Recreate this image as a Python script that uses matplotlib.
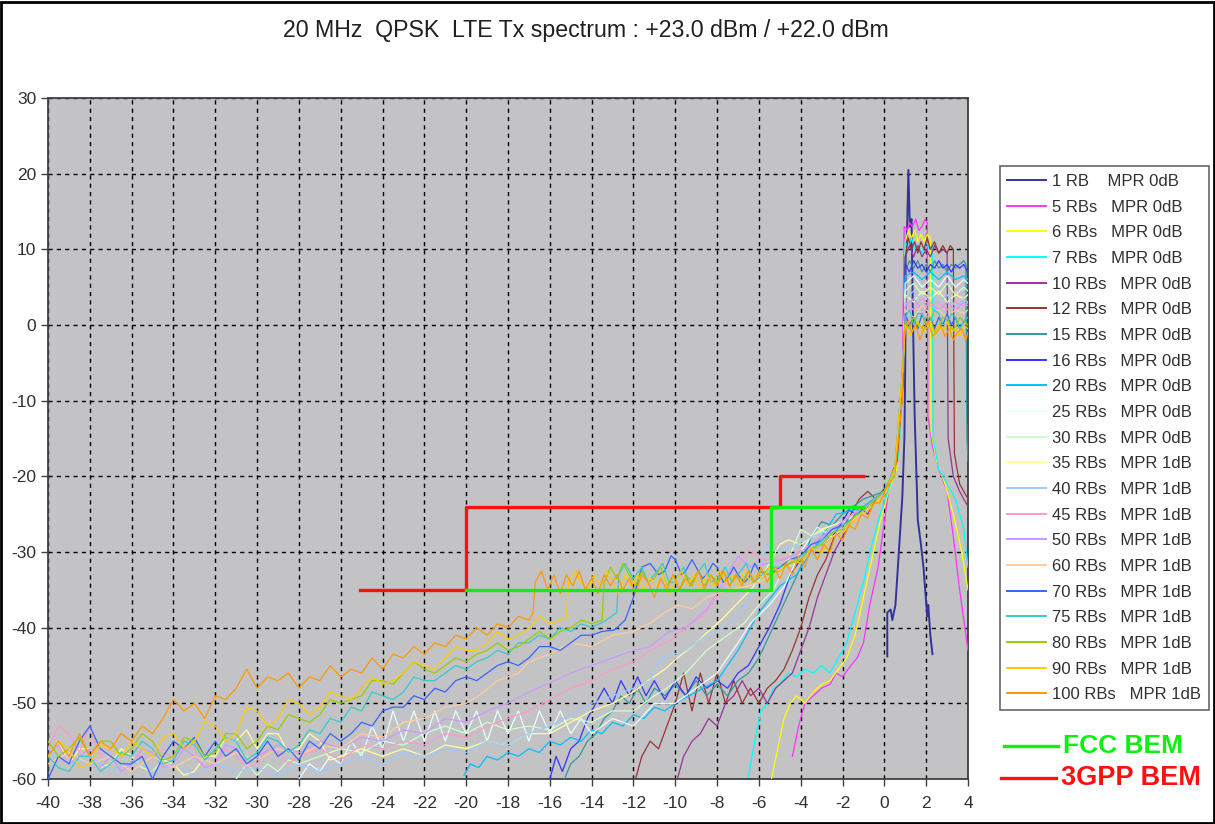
import matplotlib
matplotlib.use('Agg')
import matplotlib.pyplot as plt
from matplotlib import font_manager
from matplotlib.lines import Line2D
from matplotlib.patches import Rectangle

# pick a narrow Arial-like face when present
names = set(f.name for f in font_manager.fontManager.ttflist)
FONT = 'Liberation Sans Narrow' if 'Liberation Sans Narrow' in names else 'Liberation Sans'
plt.rcParams['font.family'] = [FONT, 'DejaVu Sans']
plt.rcParams['axes.unicode_minus'] = False

TITLE = '20 MHz  QPSK  LTE Tx spectrum : +23.0 dBm / +22.0 dBm'

# measured spectra, (offset MHz, level dBm)
RB1 = [(0.14, -43.8), (0.14, -38), (0.3, -37.6), (0.38, -39), (0.53, -37), (0.67, -31), (0.86, -22.7),
       (0.96, -14.8), (1.0, -5), (1.02, 9), (1.08, 12), (1.15, 20.5), (1.22, 13), (1.3, 14), (1.36, 2),
       (1.45, -12), (1.6, -25.8), (1.75, -29), (1.87, -32), (2.05, -38.5), (2.1, -37), (2.2, -41), (2.3, -43.5)]
RB5 = [(-4.4, -57), (-4.1, -53), (-3.8, -50), (-3.4, -49), (-3.0, -48), (-2.6, -47.5), (-2.3, -46), (-2.0, -46.5),
       (-1.6, -45), (-1.3, -44), (-1.0, -42), (-0.7, -37), (-0.3, -32), (0.0, -26), (0.3, -20), (0.6, -18),
       (0.85, -10), (0.95, 13), (1.1, 12.5), (1.2, 13.5), (1.35, 13), (1.5, 14), (1.65, 12.5), (1.8, 13),
       (1.95, 14), (2.05, 13.5), (2.08, -12), (2.3, -16), (2.6, -19), (3.0, -22), (3.3, -28), (3.6, -35), (4.0, -43)]
RB6 = [(-5.4, -60), (-5.1, -56), (-4.8, -52), (-4.5, -50), (-4.2, -49), (-3.8, -50), (-3.4, -48.5), (-3.0, -47.5),
       (-2.6, -47), (-2.2, -45.5), (-1.8, -44), (-1.4, -41), (-1.0, -36), (-0.6, -31), (-0.2, -26), (0.2, -22),
       (0.6, -19), (0.9, -8), (1.0, 11), (1.15, 12.5), (1.3, 11.5), (1.45, 12.5), (1.6, 11), (1.75, 12),
       (1.9, 11), (2.05, 12), (2.2, 11.5), (2.23, -14), (2.5, -18), (2.9, -21), (3.3, -25), (3.7, -30), (4.0, -35)]
RB7 = [(-6.5, -59.7), (-6.2, -55), (-5.9, -51), (-5.6, -50), (-5.3, -48), (-5.0, -47.5), (-4.6, -46), (-4.2, -46.5),
       (-3.8, -45.5), (-3.4, -46), (-3.0, -45), (-2.6, -46), (-2.2, -44), (-1.8, -42), (-1.4, -38), (-1.0, -34),
       (-0.6, -29), (-0.2, -25), (0.3, -21), (0.7, -17), (0.9, -5), (1.0, 11), (1.15, 10), (1.3, 11.5), (1.45, 10),
       (1.6, 10.5), (1.8, 9.5), (2.0, 11), (2.15, 10), (2.3, 10.5), (2.33, -15), (2.6, -19), (3.0, -21),
       (3.4, -23), (3.8, -27), (4.0, -32)]
RB10 = [(-9.9, -60), (-9.6, -57), (-9.2, -55), (-8.8, -54), (-8.4, -52), (-8.0, -53), (-7.6, -50), (-7.2, -49),
        (-6.8, -47), (-6.4, -49), (-6.0, -48), (-5.6, -50), (-5.2, -48), (-4.8, -47), (-4.4, -46), (-4.0, -43),
        (-3.6, -40), (-3.2, -36), (-2.8, -33), (-2.4, -30), (-2.0, -28), (-1.6, -26), (-1.2, -24), (-0.8, -25),
        (-0.4, -23), (0.2, -21), (0.6, -18), (0.9, -8), (1.0, 9), (1.2, 10.5), (1.4, 9), (1.6, 10.5), (1.8, 9),
        (2.0, 10), (2.2, 9), (2.4, 10.5), (2.6, 9.5), (2.8, 10), (3.0, 9.5), (3.05, -15), (3.3, -20), (3.6, -22),
        (4.0, -24)]
RB12 = [(-11.9, -60), (-11.6, -57), (-11.2, -55), (-10.8, -56), (-10.4, -53), (-10.0, -50), (-9.6, -46), (-9.2, -51),
        (-8.8, -46), (-8.4, -50), (-8.0, -46), (-7.6, -50), (-7.2, -47), (-6.8, -50), (-6.4, -48), (-6.0, -50),
        (-5.6, -48), (-5.2, -47), (-4.8, -45.5), (-4.4, -43), (-4.0, -40), (-3.6, -36), (-3.2, -33), (-2.8, -31),
        (-2.4, -28), (-2.0, -27), (-1.6, -25), (-1.2, -23), (-0.8, -22), (-0.4, -23), (0.2, -21), (0.6, -18),
        (0.9, -6), (1.0, 9), (1.15, 11.5), (1.3, 10), (1.45, 11), (1.6, 9.5), (1.75, 11), (1.9, 10), (2.05, 11.5),
        (2.2, 10), (2.4, 11), (2.6, 9.5), (2.8, 10.5), (3.0, 9.5), (3.15, 10.5), (3.3, 10), (3.35, -17), (3.6, -21),
        (3.8, -22), (4.0, -23)]
RB15 = [(-15.3, -60), (-15.0, -58), (-14.6, -57), (-14.2, -55), (-13.8, -54), (-13.4, -52), (-13.0, -51), (-12.6, -49),
        (-12.2, -50), (-11.8, -48), (-11.4, -50), (-11.0, -48), (-10.5, -49), (-10.0, -47.5), (-9.5, -49), (-9.0, -47),
        (-8.5, -49), (-8.0, -47.5), (-7.5, -49), (-7.0, -47), (-6.5, -46), (-6.0, -44), (-5.5, -41), (-5.0, -38),
        (-4.5, -35), (-4.0, -32), (-3.5, -28), (-3.0, -26), (-2.5, -26.5), (-2.0, -25), (-1.5, -24), (-1.0, -23),
        (0.0, -22), (0.5, -19), (0.9, -6), (1.0, 7), (1.2, 8.5), (1.4, 7.5), (1.6, 8.5), (1.8, 7), (2.0, 8),
        (2.2, 7), (2.4, 8.5), (2.6, 7.5), (2.8, 8), (3.0, 7), (3.2, 8), (3.4, 7.5), (3.6, 8), (3.8, 8.5), (3.9, 8),
        (3.95, -15), (4.0, -18)]
RB16 = [(-16.0, -60), (-15.7, -57), (-15.4, -59), (-15.0, -56), (-14.6, -55), (-14.2, -52), (-13.8, -50), (-13.4, -48),
        (-13.0, -50), (-12.6, -47), (-12.2, -49), (-11.8, -46.5), (-11.4, -49), (-11.0, -47), (-10.5, -49.5),
        (-10.0, -47), (-9.5, -49), (-9.0, -46.5), (-8.5, -48), (-8.0, -47), (-7.5, -48), (-7.0, -46), (-6.5, -45),
        (-6.0, -42.5), (-5.5, -40), (-5.0, -37), (-4.5, -33), (-4.0, -31), (-3.5, -30), (-3.0, -29), (-2.5, -28),
        (-2.0, -26), (-1.7, -24.5), (-1.3, -25), (-0.8, -24), (0.0, -22), (0.5, -19), (0.9, -6), (1.0, 8),
        (1.2, 7), (1.4, 8.5), (1.6, 7.5), (1.8, 8), (2.0, 7), (2.2, 8), (2.4, 7.5), (2.6, 8.5), (2.8, 7.5),
        (3.0, 8), (3.2, 7), (3.4, 8), (3.6, 7.5), (3.8, 8), (3.98, 7), (4.0, -13)]
RB20 = [(-20.1, -59.5), (-19.8, -58), (-19.4, -58.5), (-19.0, -57), (-18.5, -57.5), (-18.0, -56.5), (-17.5, -57),
        (-17.0, -56), (-16.5, -56.5), (-16.0, -55), (-15.5, -55.5), (-15.0, -54.5), (-14.5, -55), (-14.0, -53.5),
        (-13.5, -54), (-13.0, -52.5), (-12.5, -53), (-12.0, -51.5), (-11.5, -52), (-11.0, -50.5), (-10.5, -51),
        (-10.0, -50), (-9.0, -48.5), (-8.0, -47), (-7.0, -43), (-6.0, -38), (-5.0, -34.5), (-4.2, -33),
        (-3.5, -30), (-3.0, -28), (-2.3, -25), (-1.5, -24.5), (-1.0, -24), (0.0, -22), (0.5, -19), (0.9, -5),
        (1.0, 6.5), (1.4, 7), (1.8, 6), (2.2, 7), (2.6, 6), (3.0, 7), (3.4, 6), (3.8, 6.5), (4.0, 6)]
RB25 = [(-28.0, -60), (-27.5, -58), (-27.0, -59), (-26.5, -57), (-26.0, -58), (-25.5, -55), (-25.0, -57), (-24.5, -53),
        (-24.0, -56), (-23.5, -51), (-23.0, -55), (-22.5, -51), (-22.0, -55), (-21.5, -51), (-21.0, -55),
        (-20.5, -51), (-20.0, -54), (-19.5, -51), (-19.0, -55), (-18.5, -51), (-18.0, -54), (-17.5, -51),
        (-17.0, -55), (-16.5, -51), (-16.0, -54), (-15.5, -51), (-15.0, -54), (-14.5, -52), (-14.0, -54),
        (-13.0, -52), (-12.0, -53), (-11.0, -50), (-10.0, -50), (-9.0, -48), (-8.0, -46), (-7.0, -42),
        (-6.4, -39.4), (-5.5, -37), (-4.8, -34.6), (-4.0, -30), (-3.2, -26.7), (-2.5, -28), (-2.0, -27),
        (-1.5, -25), (-1.0, -24), (0.0, -22), (0.5, -19), (0.9, -5), (1.0, 5.5), (1.4, 6.5), (1.8, 5), (2.2, 6),
        (2.6, 5), (3.0, 6.5), (3.4, 5), (3.8, 6), (4.0, 5.5)]
RB30 = [(-31.0, -60), (-30.5, -58), (-30.0, -59.5), (-29.5, -58), (-29.0, -59), (-28.5, -57.5), (-28.0, -58),
        (-27.0, -57), (-26.0, -56), (-25.0, -56.5), (-24.0, -55), (-23.0, -55.5), (-22.0, -54), (-21.0, -53),
        (-20.0, -54), (-19.0, -52.5), (-18.0, -53.5), (-17.0, -53), (-16.0, -53.5), (-15.0, -52), (-14.0, -52.5),
        (-13.0, -51), (-12.0, -51), (-11.0, -49), (-10.4, -48), (-9.5, -46), (-8.5, -43), (-7.5, -41),
        (-6.7, -39.4), (-6.0, -37), (-5.3, -35), (-4.6, -31), (-4.0, -27), (-3.4, -28), (-2.7, -26.7), (-2.0, -26),
        (-1.0, -24), (0.0, -22), (0.5, -19), (0.9, -5), (1.0, 4.5), (1.4, 5.5), (1.8, 4), (2.2, 5), (2.6, 4),
        (3.0, 5.5), (3.4, 4), (3.8, 5), (4.0, 4.5)]
RB35 = [(-40, -57), (-39.5, -55), (-39, -58), (-38.5, -56), (-38, -56), (-37.5, -58.5), (-37, -58), (-36.5, -56),
        (-36, -57), (-35.5, -58.5), (-35, -59), (-34.5, -57.5), (-34, -58), (-33.5, -59.5), (-33, -59), (-32.5, -57),
        (-32, -57), (-31.5, -54.5), (-31, -55), (-30.5, -53.5), (-30, -56), (-29.5, -54), (-29, -54), (-28.5, -56.5),
        (-28, -56), (-27.5, -54), (-27, -55), (-26.5, -57.5), (-26, -57), (-25, -56), (-24, -57), (-23, -56),
        (-22, -57), (-21, -55.5), (-20, -56), (-19, -55), (-18, -55.5), (-17, -54), (-16, -54),
        (-15, -52.5), (-14, -51), (-13, -50), (-12, -48.5), (-11.3, -47), (-10.5, -45.5), (-9.9, -44),
        (-9.2, -42.5), (-8.5, -40.7), (-7.8, -39), (-7.0, -36.7), (-6.4, -35), (-5.8, -33), (-5.0, -29),
        (-4.6, -28.4), (-4.0, -29), (-3.0, -27), (-2.0, -26), (-1.0, -24), (0.0, -22), (0.5, -19), (0.9, -5),
        (1.0, 4), (1.4, 3), (1.8, 4.5), (2.2, 3.5), (2.6, 4.5), (3.0, 3), (3.4, 4), (3.8, 3.5), (4.0, 4)]
RB40 = [(-40, -56), (-39, -58), (-38, -57), (-37, -59), (-36, -57.5), (-35, -59), (-34, -58), (-33, -59.5),
        (-32, -58), (-31, -59), (-30, -58.5), (-29, -59.5), (-28, -58), (-27, -59), (-26, -58), (-25, -57),
        (-24, -58), (-23, -56.5), (-22, -57), (-21, -56), (-20, -56.5), (-19, -55), (-18, -55.5), (-17, -54),
        (-16, -53), (-15, -51.5), (-14, -50), (-13, -49), (-12, -48), (-11.2, -47), (-10.7, -44), (-9.5, -43),
        (-8.5, -41), (-7.7, -40), (-6.9, -38), (-6.2, -35), (-5.6, -29), (-5.0, -30), (-4.2, -29), (-3.5, -28),
        (-2.5, -27), (-1.5, -25), (-1.0, -24), (0.0, -22), (0.5, -19), (0.9, -5), (1.0, 3.5), (1.4, 4.5), (1.8, 3),
        (2.2, 4), (2.6, 3), (3.0, 4), (3.4, 2.5), (3.8, 3.5), (4.0, 3)]
RB45 = [(-40, -56), (-39.5, -53), (-39, -54), (-38.5, -56.5), (-38, -53), (-37.5, -57), (-37, -56), (-36.5, -54),
        (-36, -55), (-35.5, -57.5), (-35, -57), (-34.5, -56), (-34, -57.5), (-33.5, -55.5), (-33, -56), (-32.5, -58.5),
        (-32, -58), (-31.5, -56), (-31, -57), (-30.5, -58.5), (-30, -58), (-29.5, -56), (-29, -56.5), (-28.5, -58),
        (-28, -57), (-27, -56), (-26, -57.5), (-25, -55.5), (-24, -56),
        (-23, -55), (-22, -55.5), (-21, -54), (-20, -54.5), (-19, -53), (-18, -52), (-17, -51), (-16, -49.5),
        (-15, -48), (-14, -47), (-13, -45.5), (-12, -44.5), (-11.2, -43), (-10.2, -41.6), (-9.5, -40), (-8.7, -38.5),
        (-8.0, -36), (-7.3, -33), (-6.5, -29.7), (-5.8, -31), (-5.0, -31), (-4.0, -30), (-3.0, -28), (-2.0, -26),
        (-1.0, -24), (0.0, -22), (0.5, -19), (0.9, -5), (1.0, 3), (1.4, 2), (1.8, 3.5), (2.2, 2.5), (2.6, 3),
        (3.0, 2), (3.4, 3), (3.8, 2.5), (4.0, 3)]
RB50 = [(-40, -57), (-39.5, -55.5), (-39, -58), (-38.5, -57), (-38, -56), (-37.5, -58.5), (-37, -57), (-36.5, -59),
        (-36, -58), (-35.5, -56), (-35, -56.5), (-34.5, -58.5), (-34, -58), (-33.5, -56), (-33, -57), (-32.5, -58.5),
        (-32, -58), (-31.5, -55.5), (-31, -56), (-30.5, -58), (-30, -57), (-29, -55.5), (-28, -56.5), (-27, -55),
        (-26, -56), (-25, -54.5), (-24, -55),
        (-23, -53.5), (-22, -54), (-21, -52), (-20, -52.5), (-19, -51), (-18, -50), (-17, -48.5), (-16, -47.3),
        (-15, -46), (-14, -45), (-13, -44), (-12, -43), (-11.2, -42.5), (-10.3, -40.5), (-9.5, -40), (-8.5, -37.6),
        (-7.7, -34), (-7.0, -30.6), (-6.4, -32), (-5.6, -31.5), (-4.8, -31), (-4.0, -30), (-3.0, -28), (-2.0, -26),
        (-1.0, -24), (0.0, -22), (0.5, -19), (0.9, -5), (1.0, 2.5), (1.4, 3.5), (1.8, 2), (2.2, 3), (2.6, 2),
        (3.0, 3), (3.4, 2), (3.8, 3), (4.0, 2.5)]
RB60 = [(-40, -58), (-39, -56.5), (-38, -58), (-37, -57), (-36, -59), (-35, -57), (-34, -58.5), (-33, -57),
        (-32, -58), (-31, -56.5), (-30, -57.5), (-29, -56), (-28, -57), (-27, -55.5), (-26, -56), (-25, -54),
        (-24, -54.5), (-23, -52.5), (-22, -52), (-21, -50.5), (-20, -50), (-19.4, -49), (-18.5, -47), (-17.5, -46),
        (-17, -44.5), (-16, -43.5), (-15, -42), (-14, -42.5), (-13, -41), (-12, -40.5), (-11.2, -39.4),
        (-10.5, -38), (-9.9, -37), (-9.2, -37.5), (-8.5, -36), (-7.5, -35), (-6.5, -34.5), (-6.0, -34),
        (-5.0, -32.5), (-4.0, -31), (-3.0, -29), (-2.0, -27), (-1.0, -24.5), (0.0, -22), (0.5, -19), (0.9, -5),
        (1.0, 2), (1.4, 1), (1.8, 2.5), (2.2, 1.5), (2.6, 2), (3.0, 1), (3.4, 2), (3.8, 1.5), (4.0, 2)]
RB70 = [(-40, -60), (-39.5, -57), (-39, -58), (-38.5, -55), (-38, -53), (-37.5, -56), (-37, -57), (-36.5, -58),
        (-36, -58), (-35.5, -57), (-35, -60), (-34.5, -57), (-34, -55), (-33.5, -56), (-33, -54.5), (-32.5, -57),
        (-32, -55), (-31.5, -57), (-31, -56), (-30.5, -58), (-30, -57), (-29.5, -55), (-29, -57), (-28.5, -56),
        (-28, -57.5), (-27.5, -55), (-27, -56), (-26.5, -54), (-26, -55), (-25.5, -54), (-25, -52.5), (-24.5, -53),
        (-24, -51), (-23.5, -50.5), (-23, -50.5), (-22.5, -49), (-22, -49.5), (-21.5, -48), (-21, -48.5),
        (-20.5, -47), (-20, -46.5), (-19.5, -47), (-19, -46), (-18.5, -45), (-18, -44.5), (-17.5, -45),
        (-17, -44), (-16.5, -42.5), (-16, -42.5), (-15.5, -43), (-15, -42), (-14.5, -41), (-14, -41),
        (-13.5, -40.5), (-12.9, -40.3), (-12.4, -39), (-12, -36), (-11.6, -32), (-11.2, -31.5), (-10.8, -33),
        (-10.5, -32.5), (-10.2, -30.5), (-10, -31), (-9.7, -33), (-9.5, -32.5), (-9.2, -31), (-9, -32),
        (-8.7, -33.5), (-8.5, -33), (-8.2, -31.5), (-8, -32), (-7.7, -34), (-7.5, -33.5), (-7.2, -32), (-7, -33),
        (-6.7, -34), (-6.5, -33.5), (-6.2, -31.5), (-6, -32.5), (-5.5, -33), (-5, -32), (-4.5, -31), (-4, -30.5),
        (-3.5, -29), (-3, -28.5), (-2.5, -27), (-2, -26.5), (-1.5, -25.5), (-1, -24), (0.0, -22), (0.5, -19),
        (0.9, -5), (1.0, 1.5), (1.2, 0), (1.4, 1), (1.6, -0.5), (1.8, 1.5), (2.0, 0), (2.2, 1), (2.4, -0.5),
        (2.6, 1), (2.8, 0), (3.0, 1.5), (3.2, 0), (3.4, 1), (3.6, -0.5), (3.8, 0.5), (4.0, 1)]
RB75 = [(-40, -57), (-39.5, -58.5), (-39, -59), (-38.5, -57), (-38, -57), (-37.5, -59), (-37, -58), (-36.5, -56.5),
        (-36, -57), (-35.5, -55), (-35, -56), (-34.5, -58), (-34, -57.5), (-33.5, -55), (-33, -55.5), (-32.5, -57.5),
        (-32, -56), (-31.5, -54.5), (-31, -55), (-30.5, -57.5), (-30, -56.5), (-29.5, -54.5), (-29, -55),
        (-28.5, -56.5), (-28, -55.5), (-27.5, -53.5), (-27, -54), (-26.5, -52), (-26, -52.5), (-25.5, -50.5),
        (-25, -51), (-24.5, -48.5), (-24, -49), (-23.5, -49.5), (-23, -48.5), (-22.5, -46.5), (-22, -47),
        (-21.5, -47), (-21, -46), (-20.5, -45), (-20, -45.5), (-19.5, -44.5), (-19, -44), (-18.5, -43),
        (-18, -43.5), (-17.5, -42), (-17, -42), (-16.5, -41), (-16, -41.5), (-15.5, -40), (-15, -40.5),
        (-14.5, -39.5), (-14, -40), (-13.3, -39), (-12.8, -38), (-12.7, -33), (-12.4, -31.5), (-12, -33.5),
        (-11.6, -32), (-11.3, -34), (-11, -33), (-10.6, -31.5), (-10.3, -34), (-10, -34), (-9.6, -32),
        (-9.3, -34.5), (-9, -33), (-8.6, -31.5), (-8.3, -34), (-8, -33.5), (-7.6, -32), (-7.3, -34), (-7, -33),
        (-6.6, -31.5), (-6.3, -34), (-6, -33.5), (-5.5, -32), (-5, -32), (-4.5, -31.5), (-4, -30.5), (-3.5, -30),
        (-3, -28.5), (-2.5, -27.5), (-2, -26.5), (-1.5, -25.5), (-1, -24), (0.0, -22), (0.5, -19), (0.9, -5),
        (1.0, 1), (1.2, 2), (1.4, 0), (1.6, 1.5), (1.8, 1.5), (2.0, 0), (2.2, 0.5), (2.4, 2), (2.6, 1.5),
        (2.8, 0), (3.0, 0), (3.2, 1.5), (3.4, 1), (3.6, -0.5), (3.8, 0.5), (4.0, 1)]
RB80 = [(-40, -55), (-39.5, -57), (-39, -56), (-38.5, -54.5), (-38, -57), (-37.5, -55), (-37, -55),
        (-36.5, -57), (-36, -56), (-35.5, -54), (-35, -55), (-34.5, -57.5), (-34, -57), (-33.5, -54.5), (-33, -55),
        (-32.5, -57), (-32, -56.5), (-31.5, -54), (-31, -54), (-30.5, -56), (-30, -55), (-29.5, -53), (-29, -53.5),
        (-28.5, -51.5), (-28, -52), (-27.5, -52.5), (-27, -51.5), (-26.5, -49.5), (-26, -50), (-25.5, -49.5),
        (-25, -49), (-24.5, -47), (-24, -47), (-23.5, -47.5), (-23, -46), (-22.5, -44.5), (-22, -45.5),
        (-21.5, -46), (-21, -45), (-20.5, -44), (-20, -44.5), (-19.5, -43.5), (-19, -43), (-18.5, -42),
        (-18, -43), (-17.5, -42.5), (-17, -41.5), (-16.5, -40.5), (-16, -41.5), (-15.5, -40.5), (-15, -40),
        (-14.5, -39), (-14, -39.5), (-13.5, -39), (-13.4, -34), (-13.1, -32), (-12.8, -33.5), (-12.5, -31.5),
        (-12.2, -33), (-11.9, -34.5), (-11.6, -32.5), (-11.3, -34), (-11, -33.5), (-10.7, -32), (-10.4, -34.5),
        (-10.1, -33), (-9.8, -35), (-9.5, -33), (-9.2, -34), (-8.9, -32.5), (-8.6, -34.5), (-8.3, -33),
        (-8, -34), (-7.7, -32.5), (-7.4, -34.5), (-7.1, -33), (-6.8, -34), (-6.5, -32.5), (-6.2, -34),
        (-5.9, -32.5), (-5.5, -33), (-5, -32.5), (-4.5, -31.5), (-4, -31), (-3.5, -29.5), (-3, -29),
        (-2.5, -27.5), (-2, -27), (-1.5, -25.5), (-1, -24.5), (0.0, -22), (0.5, -19), (0.9, -5), (1.0, 0.5),
        (1.2, -0.5), (1.4, 1), (1.6, 0), (1.8, -0.5), (2.0, 1), (2.2, 1), (2.4, -1), (2.6, 0), (2.8, 1),
        (3.0, 1), (3.2, -0.5), (3.4, -0.5), (3.6, 1), (3.8, 0.5), (4.0, 0)]
RB90 = [(-40, -57), (-39.5, -55), (-39, -56), (-38.5, -58.5), (-38, -58), (-37.5, -55.5), (-37, -56),
        (-36.5, -57), (-36, -55), (-35.5, -56), (-35, -57), (-34.5, -54.5), (-34, -54), (-33.5, -56), (-33, -55),
        (-32.5, -52.5), (-32, -53), (-31.5, -55), (-31, -54), (-30.5, -50.5), (-30, -51), (-29.5, -53),
        (-29, -52), (-28.5, -49.5), (-28, -50), (-27.5, -51.5), (-27, -50.5), (-26.5, -48.5), (-26, -49),
        (-25.5, -49.5), (-25, -48), (-24.5, -46.5), (-24, -47.5), (-23.5, -47), (-23, -46), (-22.5, -44.5),
        (-22, -45), (-21.5, -45.5), (-21, -44), (-20.5, -42.5), (-20, -43), (-19.5, -43), (-19, -42),
        (-18.5, -40.5), (-18, -41.5), (-17.5, -41), (-17, -40), (-16.5, -38.5), (-16, -39.5), (-15.5, -39),
        (-15.2, -38.5), (-15.1, -34), (-14.8, -32.5), (-14.5, -34), (-14.2, -35), (-13.9, -33), (-13.6, -34.5),
        (-13.3, -32.5), (-13, -34), (-12.7, -35.5), (-12.4, -33), (-12.1, -34.5), (-11.8, -33), (-11.5, -35),
        (-11.2, -33.5), (-10.9, -34.5), (-10.6, -33), (-10.3, -35.5), (-10, -34), (-9.7, -32.5), (-9.4, -34.5),
        (-9.1, -33), (-8.8, -35), (-8.5, -33), (-8.2, -34.5), (-7.9, -32.5), (-7.6, -34), (-7.3, -33),
        (-7, -34.5), (-6.7, -32.5), (-6.4, -34), (-6.1, -33), (-5.8, -33.5), (-5.5, -32), (-5, -32.5),
        (-4.5, -31), (-4, -31.5), (-3.5, -29.5), (-3, -30), (-2.5, -28), (-2, -27.5), (-1.5, -26), (-1, -25),
        (0.0, -22.5), (0.5, -19), (0.9, -5), (1.0, 0), (1.2, -1.5), (1.4, -0.5), (1.6, 0.5), (1.8, -1),
        (2.0, -0.5), (2.2, 0.5), (2.4, -1.5), (2.6, 0), (2.8, -1), (3.0, 0.5), (3.2, -1), (3.4, -0.5),
        (3.6, -1.5), (3.8, 0), (4.0, -0.5)]
RB100 = [(-40, -57), (-39.5, -55), (-39, -57), (-38.5, -54), (-38, -57), (-37.5, -55), (-37, -56), (-36.5, -54),
         (-36, -55), (-35.5, -53), (-35, -54), (-34.5, -52), (-34, -49.5), (-33.5, -51), (-33, -50), (-32.5, -52),
         (-32, -49), (-31.5, -49.5), (-31, -48), (-30.5, -45.5), (-30, -48), (-29.5, -46.5), (-29, -47), (-28.5, -46),
         (-28, -48), (-27.5, -46.5), (-27, -47), (-26.5, -45), (-26, -46.5), (-25.5, -45.5), (-25, -46), (-24.5, -44),
         (-24, -45.5), (-23.5, -43.5), (-23, -44), (-22.5, -42.5), (-22, -43.5), (-21.5, -42), (-21, -42.5),
         (-20.5, -41), (-20, -41.5), (-19.5, -40), (-19, -41), (-18.5, -39.5), (-18, -40), (-17.5, -38.5), (-17, -39),
         (-16.8, -38), (-16.7, -34), (-16.4, -32.5), (-16.1, -35), (-15.8, -33), (-15.5, -35.5), (-15.2, -33),
         (-14.9, -34.5), (-14.6, -32.5), (-14.3, -35), (-14, -33.5), (-13.7, -35.5), (-13.4, -33), (-13.1, -34.5),
         (-12.8, -33), (-12.5, -35), (-12.2, -33.5), (-11.9, -35.5), (-11.6, -33), (-11.3, -34), (-11, -36),
         (-10.7, -33.5), (-10.4, -35), (-10.1, -33), (-9.8, -35), (-9.5, -33.5), (-9.2, -34.5), (-8.9, -32.5),
         (-8.6, -35), (-8.3, -33), (-8, -34.5), (-7.7, -32.5), (-7.4, -34.5), (-7.1, -33), (-6.8, -34.5),
         (-6.5, -32.5), (-6.2, -34), (-5.9, -32), (-5.6, -34), (-5.3, -32), (-5, -33.5), (-4.7, -31.5),
         (-4.4, -33), (-4.1, -30.5), (-3.8, -32), (-3.5, -29.5), (-3.2, -31), (-2.9, -29), (-2.6, -30),
         (-2.3, -27.5), (-2, -28.5), (-1.7, -26.5), (-1.4, -27), (-1.1, -25), (-0.8, -25.5), (-0.5, -23.5),
         (-0.2, -23.5), (0.1, -21.5), (0.5, -20), (0.85, -10), (0.95, -1), (1.15, 0.5), (1.3, -1), (1.5, 0),
         (1.7, -2), (1.9, -0.5), (2.1, 0.5), (2.3, -1.5), (2.5, -1), (2.7, 0), (2.9, -1.5), (3.1, -0.5),
         (3.3, -2), (3.5, -1), (3.7, -0.5), (3.9, -2), (4.0, -1)]

TRACES = [RB1, RB5, RB6, RB7, RB10, RB12, RB15, RB16, RB20, RB25, RB30, RB35, RB40, RB45, RB50, RB60,
          RB70, RB75, RB80, RB90, RB100]
LABELS = ['1 RB    MPR 0dB', '5 RBs   MPR 0dB', '6 RBs   MPR 0dB', '7 RBs   MPR 0dB', '10 RBs   MPR 0dB',
          '12 RBs   MPR 0dB', '15 RBs   MPR 0dB', '16 RBs   MPR 0dB', '20 RBs   MPR 0dB', '25 RBs   MPR 0dB',
          '30 RBs   MPR 0dB', '35 RBs   MPR 1dB', '40 RBs   MPR 1dB', '45 RBs   MPR 1dB', '50 RBs   MPR 1dB',
          '60 RBs   MPR 1dB', '70 RBs   MPR 1dB', '75 RBs   MPR 1dB', '80 RBs   MPR 1dB', '90 RBs   MPR 1dB',
          '100 RBs   MPR 1dB']
COLORS = ['#333399', '#FF33FF', '#FFFF00', '#00FFFF', '#993399', '#993333', '#339999', '#3333FF', '#00BFFF',
          '#E6FFFF', '#CCFFCC', '#FFFF99', '#99CCFF', '#FF99CC', '#CC99FF', '#FFCC99', '#3366FF', '#33CCCC',
          '#99CC00', '#FFCC00', '#FF9900']
WIDTHS = [1.4] + [0.9] * 20

# emission masks
FCC_F = [-20, -5.4, -5.4, -1]
FCC_P = [-35, -35, -24, -24]
GPP_F = [-25.1, -20, -20, -5, -5, -1]
GPP_P = [-35, -35, -24, -24, -20, -20]

fig = plt.figure(figsize=(12.15, 8.24), dpi=100)
ax = fig.add_axes([0.0395, 0.0546, 0.7572, 0.8265])
ax.set_facecolor('#C3C3C6')

for data, col, w in zip(TRACES, COLORS, WIDTHS):
    f = [p[0] for p in data]
    v = [p[1] for p in data]
    ax.plot(f, v, color=col, lw=w, zorder=3)

ax.plot(GPP_F, GPP_P, color='#FF1010', lw=2.4, zorder=4)
ax.plot(FCC_F, FCC_P, color='#10F010', lw=2.4, zorder=5)

ax.set_xlim(-40, 4)
ax.set_ylim(-60, 30)
ax.set_xticks(range(-40, 5, 2))
ax.set_yticks(range(-60, 31, 10))
ax.grid(True, color='black', linestyle=(0, (3, 3)), lw=1.0, zorder=1)
ax.set_axisbelow(True)
ax.tick_params(direction='out', length=5, width=1, color='#404040', labelsize=12.5,
               labelcolor='#303030')
ax.tick_params(axis='x', pad=7)
for s in ax.spines.values():
    s.set_color('#404040')
    s.set_linewidth(1.3)

fig.text(0.482, 0.963, TITLE, ha='center', va='center', fontsize=16.7, color='#202020')

handles = [Line2D([0], [0], color=c, lw=1.4) for c in COLORS]
leg = fig.legend(handles, LABELS, loc='upper left', bbox_to_anchor=(0.823, 0.798), fontsize=12,
                 labelspacing=0.64, handlelength=2.3, handletextpad=0.4, borderpad=0.45,
                 borderaxespad=0.0, frameon=True, fancybox=False, edgecolor='#404040',
                 labelcolor='#303030')
leg.get_frame().set_linewidth(1.2)

# mask key below the legend
fig.add_artist(Line2D([0.826, 0.871], [0.095, 0.095], color='#10F010', lw=2.4))
fig.text(0.875, 0.095, 'FCC BEM', color='#10F010', fontsize=19, fontweight='bold', va='center')
fig.add_artist(Line2D([0.824, 0.869], [0.056, 0.056], color='#FF1010', lw=2.4))
fig.text(0.873, 0.056, '3GPP BEM', color='#FF1010', fontsize=19.5, fontweight='bold', va='center')

fig.add_artist(Rectangle((0.001, 0.001), 0.998, 0.997, transform=fig.transFigure, fill=False,
                         edgecolor='black', lw=2))

fig.savefig('out.png', dpi=100)
